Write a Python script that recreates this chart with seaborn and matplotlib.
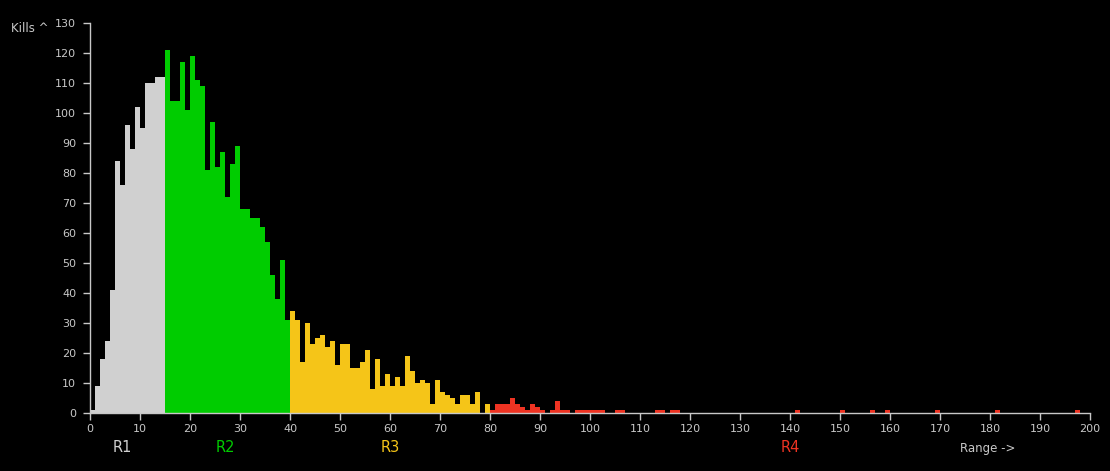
import matplotlib
matplotlib.use("Agg")
import matplotlib.pyplot as plt
import matplotlib.transforms as mtransforms
import seaborn as sns
import numpy as np
import pandas as pd

# Data: kills per 1-unit range bin
r1_start = 0
r1_kills = [1, 9, 18, 24, 41, 84, 76, 96, 88, 102, 95, 110, 110, 112, 112]
r2_start = 15
r2_kills = [121, 104, 104, 117, 101, 119, 111, 109, 81, 97, 82, 87, 72, 83, 89,
            68, 68, 65, 65, 62, 57, 46, 38, 51, 31]
r3_start = 40
r3_kills = [34, 31, 17, 30, 23, 25, 26, 22, 24, 16, 23, 23, 15, 15, 17, 21, 8, 18, 9, 13,
            9, 12, 9, 19, 14, 10, 11, 10, 3, 11, 7, 6, 5, 3, 6, 6, 3, 7, 0, 3]
# R4 is sparse: range bin -> kills
r4_kills = {80: 1, 81: 3, 82: 3, 83: 3, 84: 5, 85: 3, 86: 2, 87: 1, 88: 3, 89: 2,
            90: 1, 92: 1, 93: 4, 94: 1, 95: 1, 97: 1, 98: 1, 99: 1, 100: 1, 101: 1,
            102: 1, 105: 1, 106: 1, 113: 1, 114: 1, 116: 1, 117: 1, 141: 1, 150: 1,
            156: 1, 159: 1, 169: 1, 181: 1, 197: 1}

regions = ['R1', 'R2', 'R3', 'R4']
region_colors = ['#d0d0d0', '#00cc00', '#f5c518', '#ee3322']
label_x = [6.5, 27, 60, 140]

rows = []
for start, vals, name in [(r1_start, r1_kills, 'R1'), (r2_start, r2_kills, 'R2'),
                          (r3_start, r3_kills, 'R3')]:
    for i, v in enumerate(vals):
        rows.append((start + i + 0.5, v, name))
for k, v in r4_kills.items():
    rows.append((k + 0.5, v, 'R4'))
df = pd.DataFrame(rows, columns=['range', 'kills', 'region'])

sns.set_style("dark")
plt.rcParams['font.family'] = ['DejaVu Sans']
fg = '#c8c8c8'

fig = plt.figure(figsize=(11.1, 4.71), dpi=100, facecolor='black')
ax = fig.add_axes([0.0811, 0.1231, 0.9009, 0.8281])
ax.set_facecolor('black')

sns.histplot(data=df, x='range', weights='kills', hue='region',
             hue_order=regions, palette=dict(zip(regions, region_colors)),
             binwidth=1, binrange=(0, 200), multiple='layer', alpha=1,
             linewidth=0, legend=False, common_bins=True, ax=ax)

ax.set_xlim(0, 200)
ax.set_ylim(0, 130)
ax.set_xticks(np.arange(0, 201, 10))
ax.set_yticks(np.arange(0, 131, 10))
ax.set_xlabel('')
ax.set_ylabel('')
ax.grid(False)
for s in ['top', 'right']:
    ax.spines[s].set_visible(False)
for s in ['left', 'bottom']:
    ax.spines[s].set_visible(True)
    ax.spines[s].set_color(fg)
    ax.spines[s].set_linewidth(1)
ax.tick_params(axis='both', colors=fg, labelcolor=fg, labelsize=8,
               length=5, width=1, direction='out', pad=3,
               bottom=True, left=True)
ax.tick_params(axis='y', pad=5)

trans = mtransforms.blended_transform_factory(ax.transData, ax.transAxes)
for name, c, x in zip(regions, region_colors, label_x):
    ax.text(x, -0.088, name, color=c, fontsize=10.5, ha='center', va='center',
            transform=trans)
ax.text(179.6, -0.09, 'Range ->', color=fg, fontsize=8.5, ha='center',
        va='center', transform=trans)

trans_y = mtransforms.blended_transform_factory(ax.transAxes, ax.transData)
ax.text(-0.06, 128.3, 'Kills ^', color=fg, fontsize=8.5, ha='center',
        va='center', transform=trans_y)

fig.savefig('out.png', dpi=100, facecolor='black')
